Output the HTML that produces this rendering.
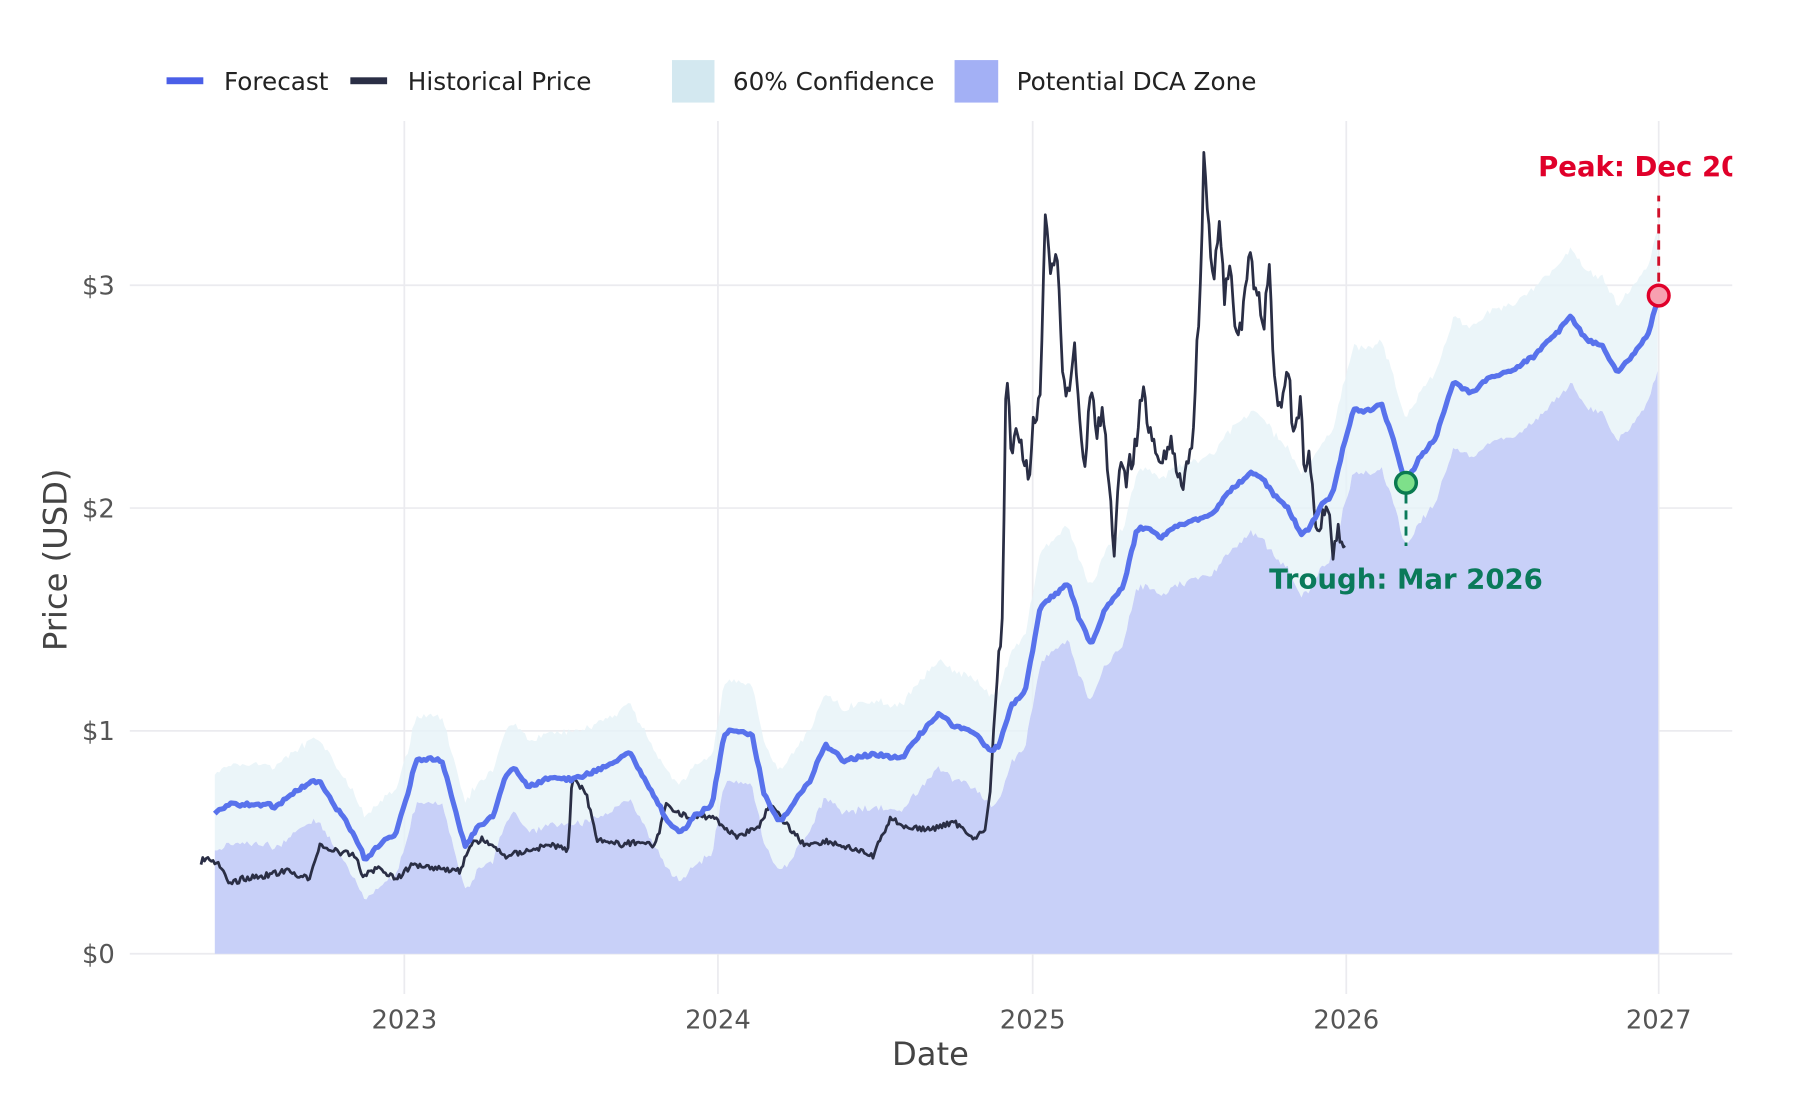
<!DOCTYPE html>
<html><head><meta charset="utf-8"><style>
html,body{margin:0;padding:0;background:#fff}
svg{display:block}
text{font-family:"DejaVu Sans","Liberation Sans",sans-serif}
</style></head><body>
<svg id="s" width="1800" height="1100" viewBox="0 0 1567 957" xmlns="http://www.w3.org/2000/svg">
<defs><clipPath id="c"><rect x="113" y="100" width="1395" height="780"/></clipPath></defs>
<g stroke="#ebebef" stroke-width="1.5">
<line x1="113" x2="1508" y1="830" y2="830"/><line x1="113" x2="1508" y1="636" y2="636"/>
<line x1="113" x2="1508" y1="442" y2="442"/><line x1="113" x2="1508" y1="248" y2="248"/>
<line x1="352" x2="352" y1="105" y2="865"/><line x1="625" x2="625" y1="105" y2="865"/>
<line x1="899" x2="899" y1="105" y2="865"/><line x1="1172" x2="1172" y1="105" y2="865"/>
<line x1="1444" x2="1444" y1="105" y2="865"/>
</g>
<g id="plot" clip-path="url(#c)"></g>
<g font-size="22.5" fill="#555" text-anchor="end">
<text x="100" y="838">$0</text><text x="100" y="644">$1</text><text x="100" y="450">$2</text><text x="100" y="256">$3</text>
</g>
<g font-size="22.5" fill="#555" text-anchor="middle">
<text x="352" y="895">2023</text><text x="625" y="895">2024</text><text x="899" y="895">2025</text><text x="1172" y="895">2026</text><text x="1444" y="895">2027</text>
</g>
<text x="810" y="927" font-size="28" fill="#444" text-anchor="middle">Date</text>
<text transform="translate(58,487) rotate(-90)" font-size="28" fill="#444" text-anchor="middle">Price (USD)</text>
<g font-size="21.5" fill="#222">
<rect x="145" y="67" width="32" height="6" fill="#4a5fe8"/><text x="195" y="78">Forecast</text>
<rect x="305" y="67" width="32" height="6" fill="#2a2e45"/><text x="355" y="78">Historical Price</text>
<rect x="585" y="52" width="37" height="37" fill="#d3e8f0"/><text x="638" y="78">60% Confidence</text>
<rect x="831" y="52" width="38" height="37" fill="#a3b0f5"/><text x="885" y="78">Potential DCA Zone</text>
</g>
</svg>
<script>
var F=[[187,708],[200,700],[235,700],[240,703],[255,690],[272,680],[280,682],[290,700],[300,712],[310,730],[318,748],[330,735],[345,725],[355,690],[362,662],[372,660],[385,662],[395,700],[405,738],[415,720],[430,710],[440,675],[448,668],[460,685],[475,678],[500,678],[520,670],[540,660],[548,655],[558,672],[568,690],[580,712],[592,726],[605,710],[620,700],[630,640],[637,635],[655,640],[665,690],[678,716],[690,700],[705,680],[718,648],[735,662],[760,656],[785,660],[800,640],[818,620],[830,632],[850,638],[862,655],[870,648],[880,615],[893,600],[905,530],[915,520],[930,508],[940,540],[950,560],[962,530],[978,510],[990,460],[1000,460],[1010,468],[1020,460],[1040,452],[1055,448],[1070,428],[1090,410],[1100,418],[1110,432],[1120,440],[1133,465],[1140,460],[1150,440],[1160,430],[1168,395],[1178,357],[1190,357],[1203,352],[1212,380],[1224,420],[1235,400],[1250,380],[1265,333],[1280,342],[1295,330],[1320,320],[1335,310],[1355,290],[1368,275],[1380,295],[1395,300],[1408,325],[1420,310],[1435,290],[1444,257]];
var H=[[175,750],[180,745],[190,752],[200,770],[210,765],[230,762],[250,758],[270,765],[278,735],[290,740],[310,745],[315,762],[330,755],[345,765],[360,752],[380,755],[400,758],[410,735],[420,730],[440,745],[460,740],[480,735],[495,740],[498,675],[510,690],[520,730],[540,735],[560,732],[570,738],[580,700],[600,712],[620,710],[640,728],[660,720],[670,700],[680,712],[700,735],[720,732],[740,738],[760,745],[775,712],[790,720],[810,722],[830,715],[850,730],[858,720],[862,690],[866,620],[870,560],[873,545],[876,300],[880,400],[885,380],[890,390],[895,420],[900,360],[905,350],[910,190],[915,240],[920,225],[925,320],[930,350],[935,295],[940,370],[945,400],[950,330],[955,380],[960,355],[965,420],[970,480],[975,410],[980,420],[985,400],[990,380],[995,330],[1000,380],[1010,395],[1020,390],[1030,420],[1038,385],[1042,300],[1045,250],[1048,140],[1052,200],[1056,240],[1062,190],[1066,260],[1070,230],[1075,280],[1080,290],[1088,225],[1095,260],[1100,280],[1105,240],[1108,300],[1112,360],[1118,340],[1122,320],[1126,380],[1132,350],[1136,420],[1140,400],[1145,450],[1150,460],[1155,430],[1160,480],[1165,465],[1170,470]];
function interp(P,x){for(var i=1;i<P.length;i++){if(x<=P[i][0]){var a=P[i-1],b=P[i],t=(x-a[0])/(b[0]-a[0]);return a[1]+t*(b[1]-a[1]);}}return P[P.length-1][1];}
var seed=7;function rnd(){seed=(seed*9301+49297)%233280;return seed/233280-0.5;}
var up=[],lo=[],fl=[];
for(var x=187;x<=1444;x+=2){var f=interp(F,x)+(x<1440?rnd()*3:0);var k=34+(x-187)/1257*26;up.push([x,f-k+rnd()*5]);lo.push([x,f+k+rnd()*5]);fl.push([x,f]);}
function pts(a){return a.map(function(p){return p[0].toFixed(1)+','+p[1].toFixed(1)}).join(' ');}
var hl=[];for(var x=175;x<=1171;x+=1.5){var y=interp(H,x);var amp=y<600?22:5;hl.push([x,y+rnd()*amp]);}
var g=document.getElementById('plot');
var ns='http://www.w3.org/2000/svg';
function el(t,a){var e=document.createElementNS(ns,t);for(var k in a)e.setAttribute(k,a[k]);g.appendChild(e);return e;}
el('polygon',{points:pts(up)+' '+pts(lo.slice().reverse()),fill:'#e6f2f8',opacity:'0.8'});
el('polygon',{points:'187,830 '+pts(lo)+' 1444,830',fill:'#c8d0f8'});
el('polyline',{points:pts(hl),fill:'none',stroke:'#2a2e45','stroke-width':'2.4','stroke-linejoin':'round'});
el('polyline',{points:pts(fl),fill:'none',stroke:'#5872ec','stroke-width':'4.5','stroke-linejoin':'round'});
el('line',{x1:1224,y1:430,x2:1224,y2:475,stroke:'#0a7a5a','stroke-width':'2.5','stroke-dasharray':'8,6'});
el('circle',{cx:1224,cy:420,r:9,fill:'#7ee08a',stroke:'#0a7a50','stroke-width':'3'});
el('line',{x1:1444,y1:245,x2:1444,y2:170,stroke:'#d0102a','stroke-width':'2.5','stroke-dasharray':'8,6'});
el('circle',{cx:1444,cy:257,r:9,fill:'#f7a0b0',stroke:'#e0002a','stroke-width':'3'});
var t1=el('text',{x:1224,y:512,'font-size':'24','font-weight':'bold',fill:'#0a7a5a','text-anchor':'middle'});t1.textContent='Trough: Mar 2026';
var t2=el('text',{x:1339,y:153,'font-size':'24','font-weight':'bold',fill:'#e0002a'});t2.textContent='Peak: Dec 2026';
</script>
</body></html>
